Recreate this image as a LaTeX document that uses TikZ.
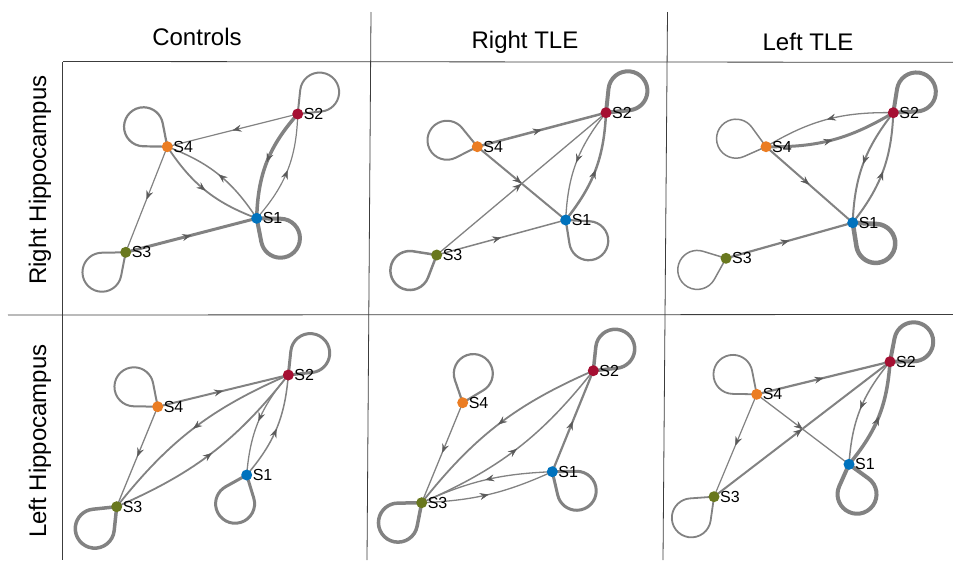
\documentclass[tikz,border=0pt]{standalone}
\usepackage{fontspec}
\setmainfont{Liberation Sans}
\usetikzlibrary{arrows.meta,decorations.markings,backgrounds,calc}
\definecolor{cS1}{RGB}{0,114,189}
\definecolor{cS2}{RGB}{165,15,50}
\definecolor{cS3}{RGB}{105,120,30}
\definecolor{cS4}{RGB}{235,125,35}
\definecolor{edgec}{RGB}{130,130,130}
\definecolor{arrc}{RGB}{90,90,90}
\definecolor{gridc}{RGB}{60,60,60}
% self loop: node, direction (page angle), line width
\newcommand\myloop[3]{\draw[edg=#3,line join=round] (#1.center) -- ($(#1.center)+(#2+39:24.1pt)$) arc[start angle=#2+129, end angle=#2-129, radius=19.5pt] -- (#1.center);}
\newcommand\myedge[4]{\draw[edg=#3,midarr] (#1.center) to[#4] (#2.center);}
\begin{document}
\begin{tikzpicture}[x=1pt,y=-1pt,
  dot/.style={circle,fill=#1,inner sep=0pt,minimum size=11pt},
  lbl/.style={font=\fontsize{16}{16}\selectfont,inner sep=0.2pt,label distance=0pt},
  edg/.style={draw=edgec,line width=#1pt},
  midarr/.style={postaction={decorate},decoration={markings,mark=at position 0.5 with {\arrow{Stealth[length=9pt,width=7pt,inset=3.3pt,line width=0.4pt,color=arrc]}}}},
  head/.style={font=\fontsize{24}{28}\selectfont,anchor=base,inner sep=0pt},
  gridline/.style={draw=gridc,line width=0.8pt}]
\useasboundingbox (0,0) rectangle (953,560);
% grid
\draw[gridline] (63,61.5) -- (953,62.3);
\draw[gridline] (8,315) -- (953,314.5);
\draw[gridline] (62.7,61.5) -- (62.7,560);
\draw[gridline] (371,12) -- (367,560);
\draw[gridline] (667.5,12) -- (663,560);
% headers
\node[head] (h1) at (197,45) {Controls};
\node[head] (h2) at (525,48) {Right TLE};
\node[head] (h3) at (808,50) {Left TLE};
\node[head,rotate=90] (r1) at (46,180) {Right Hippocampus};
\node[head,rotate=90] (r2) at (46,441) {Left Hippocampus};
% ---- nodes ----
% panel 1
\node[dot=cS1,label={[lbl]0:S1}] (a1) at (256.7,218.3) {};
\node[dot=cS2,label={[lbl]0:S2}] (a2) at (297.7,114) {};
\node[dot=cS3,label={[lbl]0:S3}] (a3) at (125.7,252.3) {};
\node[dot=cS4,label={[lbl]0:S4}] (a4) at (167.3,146.7) {};
% panel 2
\node[dot=cS1,label={[lbl]0:S1}] (b1) at (565.7,220) {};
\node[dot=cS2,label={[lbl]0:S2}] (b2) at (606,112.7) {};
\node[dot=cS3,label={[lbl]0:S3}] (b3) at (436.7,255) {};
\node[dot=cS4,label={[lbl]0:S4}] (b4) at (477.3,146.7) {};
% panel 3
\node[dot=cS1,label={[lbl]0:S1}] (c1) at (852.7,222.7) {};
\node[dot=cS2,label={[lbl]0:S2}] (c2) at (893.3,112.7) {};
\node[dot=cS3,label={[lbl]0:S3}] (c3) at (726,258.3) {};
\node[dot=cS4,label={[lbl]0:S4}] (c4) at (766,146.7) {};
% panel 4
\node[dot=cS1,label={[lbl]0:S1}] (d1) at (246.7,475) {};
\node[dot=cS2,label={[lbl]0:S2}] (d2) at (288.3,375) {};
\node[dot=cS3,label={[lbl]0:S3}] (d3) at (116.7,506.7) {};
\node[dot=cS4,label={[lbl]0:S4}] (d4) at (157.7,406.7) {};
% panel 5
\node[dot=cS1,label={[lbl]0:S1}] (e1) at (552.3,471.7) {};
\node[dot=cS2,label={[lbl]0:S2}] (e2) at (593.3,370.7) {};
\node[dot=cS3,label={[lbl]0:S3}] (e3) at (421.7,502.7) {};
\node[dot=cS4,label={[lbl]0:S4}] (e4) at (462.7,402.7) {};
% panel 6
\node[dot=cS1,label={[lbl]0:S1}] (f1) at (849,464.3) {};
\node[dot=cS2,label={[lbl]0:S2}] (f2) at (890,361.7) {};
\node[dot=cS3,label={[lbl]0:S3}] (f3) at (714,496.7) {};
\node[dot=cS4,label={[lbl]0:S4}] (f4) at (756.7,394.3) {};
\begin{pgfonlayer}{background}
% panel 1
\myedge{a2}{a4}{1.2}{}
\myedge{a4}{a3}{1.2}{}
\myedge{a3}{a1}{3}{}
\myedge{a4}{a1}{1.8}{bend right=18}
\myedge{a1}{a4}{1.5}{bend right=18}
\myedge{a2}{a1}{3.5}{bend right=20}
\myedge{a1}{a2}{1.2}{bend right=20}
\myloop{a2}{45}{2}
\myloop{a4}{140}{2.2}
\myloop{a1}{-40}{4}
\myloop{a3}{-140}{2}
% panel 2
\myedge{b4}{b2}{2.5}{}
\myedge{b4}{b1}{2}{}
\myedge{b3}{b2}{1.3}{}
\myedge{b3}{b1}{1.5}{}
\myedge{b2}{b1}{1.3}{bend right=18}
\myedge{b1}{b2}{2.5}{bend right=18}
\myloop{b2}{45}{4}
\myloop{b4}{168}{2}
\myloop{b1}{-42}{2.2}
\myloop{b3}{-150}{2.5}
% panel 3
\myedge{c2}{c4}{1.3}{bend right=16}
\myedge{c4}{c2}{3}{bend right=16}
\myedge{c4}{c1}{2}{}
\myedge{c3}{c1}{2.2}{}
\myedge{c2}{c1}{2}{bend right=18}
\myedge{c1}{c2}{2}{bend right=18}
\myloop{c2}{42}{4}
\myloop{c4}{165}{1.5}
\myloop{c1}{-42}{4.5}
\myloop{c3}{-158}{1.5}
% panel 4
\myedge{d4}{d2}{2}{}
\myedge{d4}{d3}{1.3}{}
\myedge{d2}{d3}{1.8}{bend right=14}
\myedge{d3}{d2}{1.8}{bend right=14}
\myedge{d2}{d1}{1.3}{bend right=18}
\myedge{d1}{d2}{1.5}{bend right=18}
\myloop{d2}{45}{3}
\myloop{d4}{140}{2}
\myloop{d1}{-112}{3}
\myloop{d3}{-135}{3.5}
% panel 5
\myedge{e4}{e3}{1.3}{}
\myedge{e2}{e3}{1.8}{bend right=14}
\myedge{e3}{e2}{1.5}{bend right=14}
\myedge{e1}{e2}{2.2}{}
\myedge{e1}{e3}{1.3}{bend right=11}
\myedge{e3}{e1}{1.3}{bend right=11}
\myloop{e2}{45}{3.5}
\myloop{e4}{70}{2.2}
\myloop{e1}{-38}{3}
\myloop{e3}{-140}{3.5}
% panel 6
\myedge{f4}{f2}{2.2}{}
\myedge{f4}{f3}{1.2}{}
\myedge{f4}{f1}{1.3}{}
\myedge{f3}{f2}{2}{}
\myedge{f2}{f1}{1.5}{bend right=18}
\myedge{f1}{f2}{3.5}{bend right=18}
\myloop{f2}{40}{4}
\myloop{f4}{140}{1.8}
\myloop{f1}{-75}{4}
\myloop{f3}{-137}{1.8}
\end{pgfonlayer}
\end{tikzpicture}
\end{document}
